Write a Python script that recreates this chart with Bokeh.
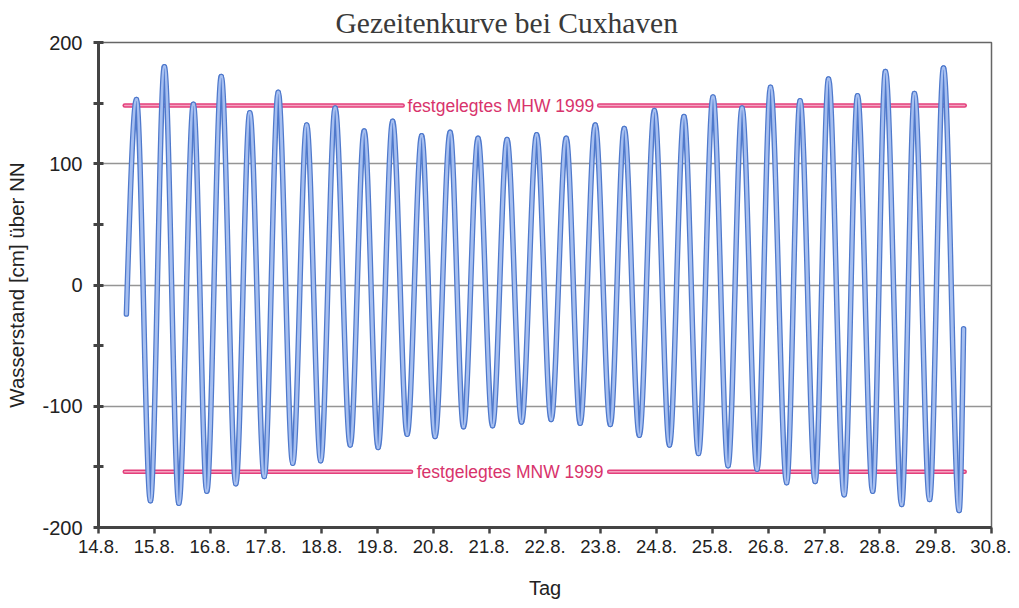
from bokeh.plotting import figure
from bokeh.models import FixedTicker, Range1d
from bokeh.core.properties import value
from bokeh.embed import file_html
from bokeh.resources import INLINE

# ---------------- data ----------------
title_text = "Gezeitenkurve bei Cuxhaven"
x_title = "Tag"
y_title = "Wasserstand [cm] über NN"

tick_days = [14, 15, 16, 17, 18, 19, 20, 21, 22, 23, 24, 25, 26, 27, 28, 29, 30]
tick_labels = ["14.8.", "15.8.", "16.8.", "17.8.", "18.8.", "19.8.", "20.8.", "21.8.",
               "22.8.", "23.8.", "24.8.", "25.8.", "26.8.", "27.8.", "28.8.", "29.8.", "30.8."]

# high waters (day of August, cm above NN)
hw_t = [14.68, 15.18, 15.70, 16.20, 16.71, 17.22, 17.73, 18.24, 18.76, 19.27,
        19.79, 20.30, 20.80, 21.32, 21.85, 22.38, 22.90, 23.42, 23.96, 24.49,
        25.01, 25.53, 26.04, 26.57, 27.08, 27.60, 28.10, 28.62, 29.14]
hw_v = [153, 180, 149, 172, 142, 159, 132, 146, 127, 135,
        123, 126, 121, 120, 124, 121, 132, 129, 144, 139,
        155, 146, 163, 152, 170, 156, 176, 158, 179]
# low waters
lw_t = [14.93, 15.44, 15.94, 16.46, 16.97, 17.48, 17.98, 18.51, 19.01, 19.53,
        20.03, 20.54, 21.06, 21.58, 22.11, 22.63, 23.17, 23.69, 24.23, 24.75,
        25.28, 25.80, 26.33, 26.84, 27.36, 27.87, 28.39, 28.89, 29.42]
lw_v = [-178, -180, -170, -164, -158, -147, -145, -132, -134, -123,
        -125, -117, -116, -113, -111, -114, -115, -124, -132, -139,
        -149, -152, -163, -162, -173, -170, -181, -177, -186]
# first and last recorded values
start_t, start_v = 14.50, -24
end_t, end_v = 29.50, -36

mhw = 148
mnw = -154
mhw_label = "festgelegtes MHW 1999"
mnw_label = "festgelegtes MNW 1999"

# ---------------- figure ----------------
p = figure(width=1011, height=606, x_range=Range1d(14, 30), y_range=Range1d(-200, 200),
           output_backend="svg", toolbar_location=None,
           min_border_left=98, min_border_right=20, min_border_top=42, min_border_bottom=79,
           background_fill_color="white", border_fill_color="white")

p.title.text = title_text
p.title.text_font = "Liberation Serif"
p.title.text_font_size = "29.5px"
p.title.text_font_style = "normal"
p.title.text_color = "#3a3a3a"
p.title.align = "left"
p.title.offset = 237
p.title.standoff = 7

p.outline_line_color = "#666666"
p.outline_line_width = 1.5

p.xgrid.grid_line_color = None
p.ygrid.ticker = FixedTicker(ticks=[-100, 0, 100])
p.ygrid.grid_line_color = "#959595"
p.ygrid.grid_line_width = 1.4

ax = p.xaxis[0]
ax.ticker = FixedTicker(ticks=tick_days)
ax.major_label_overrides = {d: l for d, l in zip(tick_days, tick_labels)}
ax.major_tick_in = 0
ax.major_tick_out = 6
ax.major_tick_line_width = 2.5
ax.major_tick_line_color = "#444444"
ax.minor_tick_line_color = None
ax.axis_line_width = 3
ax.axis_line_color = "#444444"
ax.major_label_text_font = "Liberation Sans"
ax.major_label_text_font_size = "18.5px"
ax.major_label_text_color = "#222222"
ax.major_label_standoff = 6
ax.axis_label = x_title
ax.axis_label_text_font = "Liberation Sans"
ax.axis_label_text_font_size = "20px"
ax.axis_label_text_font_style = "normal"
ax.axis_label_text_color = "#222222"
ax.axis_label_standoff = 21

ay = p.yaxis[0]
y_ticks = [-200, -150, -100, -50, 0, 50, 100, 150, 200]
ay.ticker = FixedTicker(ticks=y_ticks)
ay.major_label_overrides = {t: ("" if t % 100 else str(t)) for t in y_ticks}
ay.major_tick_in = 5
ay.major_tick_out = 5
ay.major_tick_line_width = 3
ay.major_tick_line_color = "#444444"
ay.minor_tick_line_color = None
ay.axis_line_width = 3
ay.axis_line_color = "#444444"
ay.major_label_text_font = "Liberation Sans"
ay.major_label_text_font_size = "20px"
ay.major_label_text_color = "#222222"
ay.major_label_standoff = 11
ay.axis_label = y_title
ay.axis_label_text_font = "Liberation Sans"
ay.axis_label_text_font_size = "20.5px"
ay.axis_label_text_font_style = "normal"
ay.axis_label_text_color = "#222222"
ay.axis_label_standoff = 11

# ---------------- reference lines ----------------
pink_dark = "#e3407c"
pink_light = "#f5a3c0"
line_left, line_right = 14.47, 29.52
mhw_gap = (19.45, 22.97)
mnw_gap = (19.60, 23.15)
seg_x0 = [line_left, mhw_gap[1], line_left, mnw_gap[1]]
seg_x1 = [mhw_gap[0], line_right, mnw_gap[0], line_right]
seg_y = [mhw, mhw, mnw, mnw]
p.segment(seg_x0, seg_y, seg_x1, seg_y, line_color=pink_dark, line_width=4.5, line_cap="round")
p.segment(seg_x0, seg_y, seg_x1, seg_y, line_color=pink_light, line_width=1.5, line_cap="round")
p.text(x=[(mhw_gap[0] + mhw_gap[1]) / 2, (mnw_gap[0] + mnw_gap[1]) / 2], y=[mhw, mnw],
       text=[mhw_label, mnw_label], text_font=value("Liberation Sans"), text_font_size="17.5px",
       text_color="#d8336c", text_align="center", text_baseline="middle")

# ---------------- tide curve ----------------
ext_t, ext_v = [], []
for a, b, c, d in zip(hw_t, hw_v, lw_t, lw_v):
    ext_t += [a, c]
    ext_v += [b, d]
pts_t = [start_t] + ext_t + [end_t]
pts_v = [start_v] + ext_v + [end_v]

x0, y0, x1, y1, cx0, cy0, cx1, cy1 = [], [], [], [], [], [], [], []
n = len(pts_t)
for i in range(n - 1):
    ta, va, tb, vb = pts_t[i], pts_v[i], pts_t[i + 1], pts_v[i + 1]
    dt = tb - ta
    x0.append(ta); y0.append(va); x1.append(tb); y1.append(vb)
    cx0.append(ta + dt / 3)
    cx1.append(tb - dt / 3)
    # horizontal tangents at the turning points, open ends at first/last sample
    cy0.append(va + (vb - va) / 2 if i == 0 else va)
    cy1.append(vb - (vb - va) / 2 if i == n - 2 else vb)

p.bezier(x0=x0, y0=y0, x1=x1, y1=y1, cx0=cx0, cy0=cy0, cx1=cx1, cy1=cy1,
         line_color="#4f79cc", line_width=5.5, line_cap="round")
p.bezier(x0=x0, y0=y0, x1=x1, y1=y1, cx0=cx0, cy0=cy0, cx1=cx1, cy1=cy1,
         line_color="#a6bff0", line_width=3, line_cap="round")

open("out.html", "w").write(file_html(p, INLINE))
